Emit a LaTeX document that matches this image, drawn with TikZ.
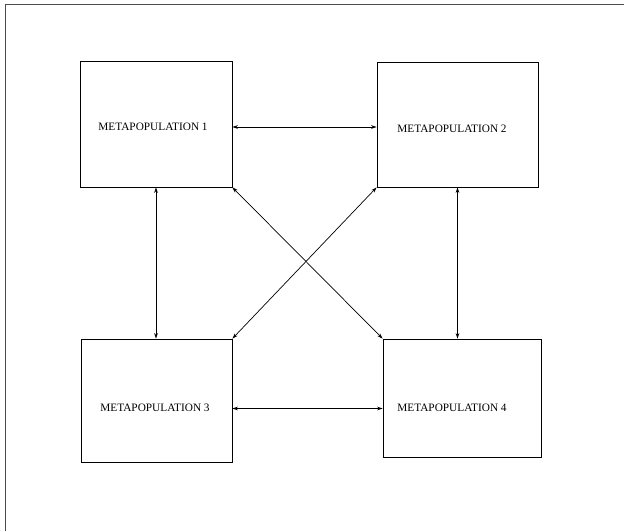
\documentclass[tikz,border=0pt]{standalone}
\usepackage{fontspec}
\setmainfont{Liberation Serif}
\usetikzlibrary{arrows.meta,calc}

\begin{document}
\begin{tikzpicture}[
    x=1pt, y=-1pt,
    box/.style={rectangle, draw, line width=0.8pt, inner sep=0pt},
    tag/.style={inner sep=0pt, font=\fontsize{11.3}{13}\selectfont},
    arrow/.style={{Stealth[length=5.5pt,width=3.6pt]}-{Stealth[length=5.5pt,width=3.6pt]}, line width=0.7pt}
]
\useasboundingbox (0,0) rectangle (624,531);

% Frame
\draw[line width=0.8pt, black!70] (5,531) -- (5,4) -- (624,4);

% Metapopulations
\node[box, minimum width=152pt, minimum height=126pt] (meta1) at (156,124) {};
\node[box, minimum width=161pt, minimum height=125pt] (meta2) at (457.5,124.5) {};
\node[box, minimum width=151pt, minimum height=123pt] (meta3) at (156.5,400.5) {};
\node[box, minimum width=158pt, minimum height=118pt] (meta4) at (462,398) {};

\node[tag] (meta1-text) at ($(meta1.center)+(-3,3)$) {METAPOPULATION 1};
\node[tag] (meta2-text) at ($(meta2.center)+(-5.5,4.5)$) {METAPOPULATION 2};
\node[tag] (meta3-text) at ($(meta3.center)+(-1.5,7.5)$) {METAPOPULATION 3};
\node[tag] (meta4-text) at ($(meta4.center)+(-10,10)$) {METAPOPULATION 4};

% Migration links
\draw[arrow] ([yshift=-3pt]meta1.east) -- ([yshift=-3pt]meta1.east -| meta2.west);
\draw[arrow] (meta1.south) -- (meta1.south |- meta3.north);
\draw[arrow] (meta2.south) -- (meta2.south |- meta4.north);
\draw[arrow] ([yshift=-8pt]meta3.east) -- ([yshift=-8pt]meta3.east -| meta4.west);
\draw[arrow] (meta1.south east) -- (meta4.north west);
\draw[arrow] (meta2.south west) -- (meta3.north east);

\end{tikzpicture}
\end{document}
